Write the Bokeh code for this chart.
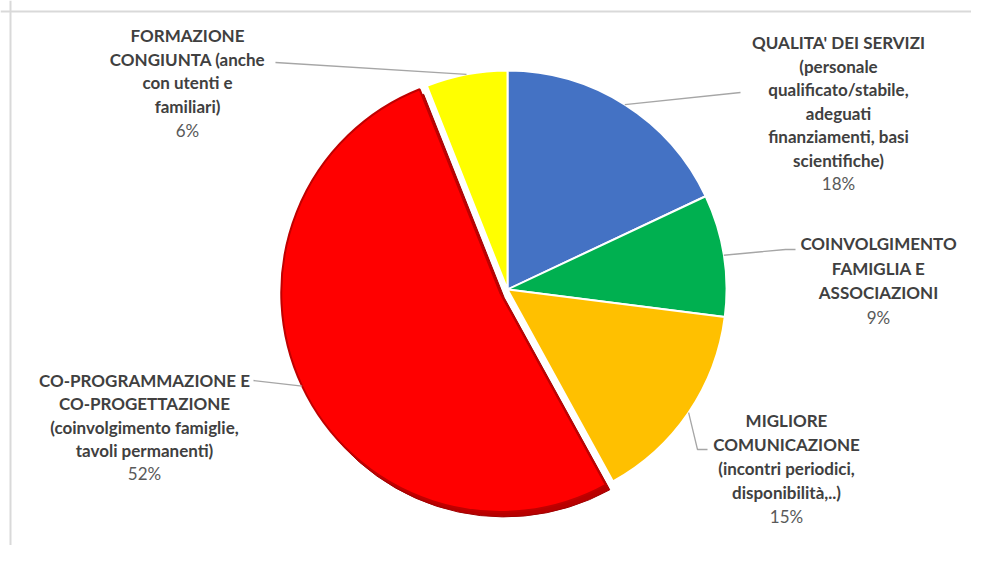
import math
from bokeh.plotting import figure
from bokeh.models import ColumnDataSource, Range1d, Span
from bokeh.core.properties import value
from bokeh.embed import file_html
from bokeh.resources import INLINE

# ---------------- data ----------------
categories = [
    "QUALITA' DEI SERVIZI (personale qualificato/stabile, adeguati finanziamenti, basi scientifiche)",
    "COINVOLGIMENTO FAMIGLIA E ASSOCIAZIONI",
    "MIGLIORE COMUNICAZIONE (incontri periodici, disponibilità,..)",
    "CO-PROGRAMMAZIONE E CO-PROGETTAZIONE (coinvolgimento famiglie, tavoli permanenti)",
    "FORMAZIONE CONGIUNTA (anche con utenti e familiari)",
]
label_lines = [
    ["QUALITA' DEI SERVIZI", "(personale", "qualificato/stabile,", "adeguati", "finanziamenti, basi", "scientifiche)"],
    ["COINVOLGIMENTO", "FAMIGLIA E", "ASSOCIAZIONI"],
    ["MIGLIORE", "COMUNICAZIONE", "(incontri periodici,", "disponibilità,..)"],
    ["CO-PROGRAMMAZIONE E", "CO-PROGETTAZIONE", "(coinvolgimento famiglie,", "tavoli permanenti)"],
    ["FORMAZIONE", "CONGIUNTA (anche", "con utenti e", "familiari)"],
]
percent_values = [18, 9, 15, 52, 6]

# ---------------- styles / layout ----------------
colors = ["#4472C4", "#00B050", "#FFC000", "#FF0000", "#FFFF00"]
explode = [0, 0, 0, 8, 0]
W, H = 971, 545


def Y(py):  # picture y (from top) -> data y
    return H - py


CX, CY, R = 507, Y(289), 219
# label blocks: centre x, first-line centre y (picture), line spacing
label_pos = [(838, 42, 23.5), (878, 243, 24.5), (786, 420, 24.0), (144, 380, 23.3), (187, 35, 23.7)]
# label-side leader points (picture coords)
leader_pts = [
    [(740, 92)],
    [(785, 249), (795, 249)],
    [(697, 449), (707, 449)],
    [(253, 380)],
    [(275, 62)],
]

p = figure(width=W, height=H, x_range=Range1d(0, W), y_range=Range1d(0, H),
           output_backend="svg", toolbar_location=None, min_border=0)
p.axis.visible = False
p.grid.visible = False
p.outline_line_color = None
p.background_fill_color = "white"

# frame borders (top and left, as in reference crop)
p.add_layout(Span(location=Y(11), dimension="width", line_color="#d9d9d9", line_width=2))
p.add_layout(Span(location=10, dimension="height", line_color="#d9d9d9", line_width=2))

total = sum(percent_values)
starts, ends, mids, xs, ys = [], [], [], [], []
cum = 0
for v, e in zip(percent_values, explode):
    a0 = math.pi / 2 - 2 * math.pi * cum / total
    cum += v
    a1 = math.pi / 2 - 2 * math.pi * cum / total
    m = (a0 + a1) / 2
    starts.append(a0)
    ends.append(a1)
    mids.append(m)
    xs.append(CX + e * math.cos(m))
    ys.append(CY + e * math.sin(m))

# shadow for exploded slice
sh = [i for i, e in enumerate(explode) if e > 0]
p.wedge(x=[xs[i] + 4 for i in sh], y=[ys[i] - 5 for i in sh], radius=R,
        start_angle=[starts[i] for i in sh], end_angle=[ends[i] for i in sh],
        direction="clock", fill_color="#B80000", line_color="#A00000", line_width=1)

src = ColumnDataSource(dict(x=xs, y=ys, start=starts, end=ends, color=colors,
                            lc=["white" if e == 0 else "#C00000" for e in explode]))
p.wedge(x="x", y="y", radius=R, start_angle="start", end_angle="end", direction="clock",
        fill_color="color", line_color="lc", line_width=2, source=src)

# leader lines
for i, pts in enumerate(leader_pts):
    ex = xs[i] + R * math.cos(mids[i])
    ey = ys[i] + R * math.sin(mids[i])
    lx = [ex] + [q[0] for q in pts]
    ly = [ey] + [Y(q[1]) for q in pts]
    p.line(lx, ly, line_color="#a6a6a6", line_width=1.3)

# labels
for i, lines in enumerate(label_lines):
    cx, y0, dy = label_pos[i]
    p.text(x=[cx] * len(lines), y=[Y(y0 + k * dy) for k in range(len(lines))], text=lines,
           text_font=value("Lato"), text_font_style="bold", text_font_size="17px",
           text_color="#404040", text_align="center", text_baseline="middle")
    p.text(x=[cx], y=[Y(y0 + len(lines) * dy)], text=[f"{percent_values[i]}%"],
           text_font=value("Lato"), text_font_size="17px",
           text_color="#595959", text_align="center", text_baseline="middle")

open("out.html", "w").write(file_html(p, INLINE))
